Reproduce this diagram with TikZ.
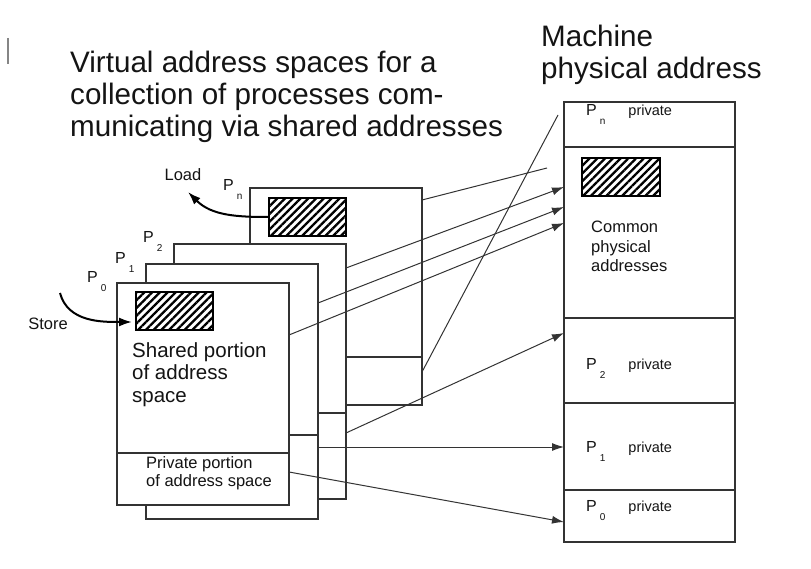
\documentclass[tikz,border=0pt]{standalone}
\usepackage{fontspec}
\setmainfont{Liberation Sans}
\usepackage{tikz}
\usetikzlibrary{
  positioning, calc, arrows.meta,
	patterns.meta}
\tikzset{
    Arrow/.style = {
        line width=1pt, draw=#1,
        -{Latex[length=12pt, width=8pt, #1]}
    },
    Arrow/.default={lineGray},
    Access/.style = {
        line width=2pt, draw=#1,
        -{Latex[length=13pt, width=9pt, #1]}
    },
    Access/.default={black},
    Link/.style = {line width=1pt, draw=lineGray},
    page/.style = {draw=lineGray, fill=white, line width=1.3pt,
        inner sep=0pt, outer sep=0pt, minimum width=172pt},
    mem/.style = {draw=lineGray, fill=white, line width=1.3pt,
        inner sep=0pt, outer sep=0pt, minimum width=171pt},
    hatch/.style = {draw=black, line width=1.2pt, inner sep=0pt,
        outer sep=0pt, minimum width=77pt, minimum height=38pt,
        pattern={Lines[angle=45, distance=5.5pt, line width=2.3pt]}},
    bigText/.style = {font=\fontsize{29.6}{31.8}\selectfont, text=textBlack,
        align=left, inner sep=0pt},
    midText/.style = {font=\fontsize{20.5}{22.5}\selectfont, text=textBlack,
        align=left, inner sep=0pt},
    smallText/.style = {font=\fontsize{16.5}{18}\selectfont, text=textBlack,
        align=left, inner sep=0pt},
    procLabel/.style = {font=\fontsize{16}{16}\selectfont, text=textBlack,
        anchor=base west, inner sep=0pt}
}
\definecolor{lineGray}{HTML}{333333}
\definecolor{textBlack}{HTML}{141414}
\newcommand\procsub[1]{P\hspace{3pt}\raisebox{-9pt}{\fontsize{10}{10}\selectfont #1}}
\newcommand\privtag{\hspace{23pt}{\fontsize{14.5}{14.5}\selectfont private}}

\begin{document}
\begin{tikzpicture}[x=1pt, y=-1pt]
    \useasboundingbox (0,0) rectangle (811,569);
    \draw [line width=1.4pt, lineGray!60] (8,38) -- (8,64);
    % headings
    \node [bigText, anchor=north west] (title) at (70,51) {Virtual address spaces for a\\collection of processes com-\\municating via shared addresses};
    \node [bigText, anchor=north west] (machine) at (541,25) {Machine\\physical address};
    % virtual spaces, back to front
    \node [page, minimum height=169pt, anchor=north west] (Pns) at (250,188) {};
    \node [page, minimum height=48pt, below=0pt of Pns] (Pnp) {};
    \node [hatch, anchor=north west] (hn) at (269,198) {};
    \node [page, minimum height=169pt, anchor=north west] (P2s) at (174,244) {};
    \node [page, minimum height=86pt, below=0pt of P2s] (P2p) {};
    \node [page, minimum height=171pt, anchor=north west] (P1s) at (146,264) {};
    \node [page, minimum height=84pt, below=0pt of P1s] (P1p) {};
    \node [page, minimum height=170pt, anchor=north west] (P0s) at (117,283) {};
    \node [page, minimum height=52pt, below=0pt of P0s] (P0p) {};
    \node [hatch, anchor=north west] (h0) at (136,292) {};
    \node [midText, anchor=north west] (shared) at (132,342) {Shared portion\\of address\\space};
    \node [smallText, anchor=north west] (private) at (146,456) {Private portion\\of address space};
    \node [procLabel] (lP0) at (87,283) {\procsub{0}};
    \node [procLabel] (lP1) at (115,264) {\procsub{1}};
    \node [procLabel] (lP2) at (143,243) {\procsub{2}};
    \node [procLabel] (lPn) at (223,191) {\procsub{n}};
    \node [smallText] (store) at (48,324) {Store};
    \node [smallText] (load) at (183,175) {Load};
    % machine memory
    \node [mem, minimum height=45pt, anchor=north west] (mPn) at (564,102) {};
    \node [mem, minimum height=171pt, below=0pt of mPn] (mCom) {};
    \node [mem, minimum height=85pt, below=0pt of mCom] (mP2) {};
    \node [mem, minimum height=87pt, below=0pt of mP2] (mP1) {};
    \node [mem, minimum height=52pt, below=0pt of mP1] (mP0) {};
    \draw [line width=2.6pt, lineGray] (mPn.south west) -- (mPn.south east);
    \node [hatch, minimum width=78pt, anchor=north west] (hc) at (582,158) {};
    \node [smallText, font=\fontsize{16.5}{19.5}\selectfont, anchor=north west] (common) at (591,221) {Common\\physical\\addresses};
    \node [procLabel] (lmPn) at (586,116) {\procsub{n}\privtag};
    \node [procLabel] (lmP2) at (586,369) {\procsub{2}\privtag};
    \node [procLabel] (lmP1) at (586,452) {\procsub{1}\privtag};
    \node [procLabel] (lmP0) at (586,511) {\procsub{0}\privtag};
    % store and load
    \coordinate (stFrom) at (60,293);
    \coordinate (ldTo) at (188,192);
    \draw [Access] (stFrom) to [out=-75, in=180] ([xshift=-4, yshift=-11]h0.west);
    \draw [Access] (hn.west) to [out=180, in=-45] (ldTo);
    % mappings
    \coordinate (nEnd) at ([xshift=-17, yshift=-21]mCom.north west);
    \coordinate (nPrivEnd) at ([xshift=-6, yshift=-13]mPn.north west);
    \draw [Link] ([yshift=-12]Pns.north east) to (nEnd);
    \draw [Arrow] ([yshift=-24]P2s.north east) to ([yshift=-40]mCom.north west);
    \draw [Arrow] ([yshift=-39]P1s.north east) to ([yshift=-60]mCom.north west);
    \draw [Arrow] ([yshift=-52]P0s.north east) to ([yshift=-76]mCom.north west);
    \draw [Link] ([yshift=-15]Pnp.north east) to (nPrivEnd);
    \draw [Arrow] ([yshift=-20]P2p.north east) to ([yshift=-15]mP2.north west);
    \draw [Arrow] ([yshift=-12]P1p.north east) to ([yshift=-44]mP1.north west);
    \draw [Arrow] ([yshift=-19]P0p.north east) to ([yshift=-32]mP0.north west);
\end{tikzpicture}
\end{document}
